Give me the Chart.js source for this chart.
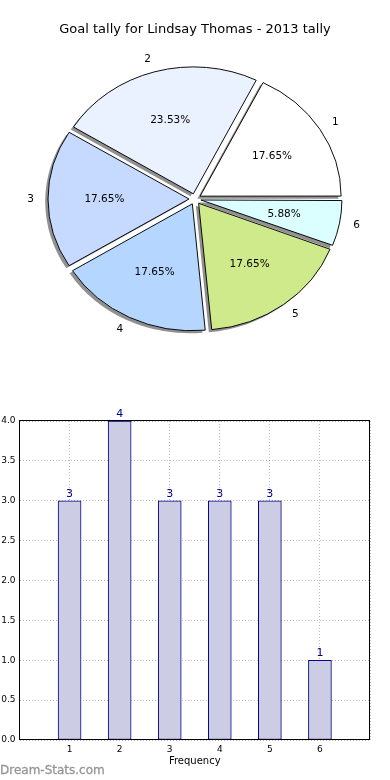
<html>
<head>
  <script src="https://cdn.jsdelivr.net/npm/chart.js@4/dist/chart.umd.min.js"></script>
  <style>
    body { margin: 0; background: #fff; width: 390px; height: 780px; position: relative; overflow: hidden; }
    #pieChart { position: absolute; left: 0; top: 0; }
    #barChart { position: absolute; left: 0; top: 380px; }
    #brand { position: absolute; left: 0; top: 763px; font: 12px 'DejaVu Sans'; color: #959595; -webkit-text-stroke: 0.3px #959595; }
  </style>
  <script>
  const chartTitle = 'Goal tally for Lindsay Thomas - 2013 tally';
  const categories = ['1', '2', '3', '4', '5', '6'];
  const goals = [3, 4, 3, 3, 3, 1];
  const axisTitle = 'Frequency';

  const sliceColors = ['#ffffff', '#eaf1ff', '#c6d9ff', '#b4d6ff', '#cfea8a', '#dbffff'];
  const FONT = 'DejaVu Sans';
  const RADIUS = 141;
  const EXPLODE = 6;     // px each wedge is pushed out
  const SQUASH = 0.9;    // pie is an ellipse in the original

  let total = goals.reduce((a, b) => a + b, 0);

  // matplotlib goes counter-clockwise from 3 o'clock, chart.js clockwise -> reverse
  let pieLabels = categories.slice().reverse();
  let pieValues = goals.slice().reverse();
  let pieColors = sliceColors.slice().reverse();

  let ellipse = {
    id: 'ellipse',
    beforeDatasetsDraw(chart) {
      let ctx = chart.ctx;
      let arcs = chart.getDatasetMeta(0).data;
      let cx = arcs[0].x, cy = arcs[0].y;
      ctx.save();
      ctx.translate(cx, cy);
      ctx.scale(1, SQUASH);
      ctx.translate(-cx, -cy);
      // shadows under every wedge
      ctx.fillStyle = 'rgba(70,70,70,0.6)';
      arcs.forEach(a => {
        let mid = (a.startAngle + a.endAngle) / 2;
        let tx = a.x + Math.cos(mid) * EXPLODE - 2.8;
        let ty = a.y + Math.sin(mid) * EXPLODE + 2.8;
        ctx.beginPath();
        ctx.moveTo(tx, ty);
        ctx.arc(tx, ty, RADIUS, a.startAngle, a.endAngle);
        ctx.closePath();
        ctx.fill();
        // chart.js grows narrow offset wedges a little, undo that
        let fix = 1 - Math.sin(Math.min(Math.PI, a.circumference));
        a.outerRadius = RADIUS - EXPLODE * fix;
      });
    },
    afterDatasetsDraw(chart) {
      chart.ctx.restore();
    }
  };

  let pieText = {
    id: 'pieText',
    afterDraw(chart) {
      let ctx = chart.ctx;
      ctx.save();
      ctx.fillStyle = '#000';
      ctx.font = '10.5px ' + FONT;
      ctx.textBaseline = 'middle';
      chart.getDatasetMeta(0).data.forEach((a, j) => {
        let mid = (a.startAngle + a.endAngle) / 2;
        let c = Math.cos(mid), s = Math.sin(mid);
        let d = EXPLODE + 0.6 * RADIUS;
        ctx.textAlign = 'center';
        ctx.fillText((pieValues[j] / total * 100).toFixed(2) + '%', a.x + c * d, a.y + s * d * SQUASH);
        d = EXPLODE + 1.1 * RADIUS;
        ctx.textAlign = c > 0 ? 'left' : 'right';
        ctx.fillText(pieLabels[j], a.x + c * d, a.y + s * d * SQUASH);
      });
      ctx.restore();
    }
  };

  let barText = {
    id: 'barText',
    afterDatasetsDraw(chart) {
      let ctx = chart.ctx;
      ctx.save();
      ctx.fillStyle = '#00008b';
      ctx.font = '11px ' + FONT;
      ctx.textAlign = 'center';
      ctx.textBaseline = 'alphabetic';
      chart.getDatasetMeta(0).data.forEach((b, i) => {
        ctx.fillText(String(goals[i]), b.x, b.y - 4);
      });
      ctx.restore();
    }
  };

  let frame = {
    id: 'frame',
    afterDraw(chart) {
      let ctx = chart.ctx, a = chart.chartArea;
      ctx.save();
      ctx.strokeStyle = '#000';
      ctx.lineWidth = 1;
      let l = Math.round(a.left) - 0.5, t = Math.round(a.top) - 0.5;
      let r = Math.round(a.right) - 0.5, b = Math.round(a.bottom) - 0.5;
      ctx.strokeRect(l, t, r - l, b - t);
      ctx.restore();
    }
  };

  window.onload = () => {
    new Chart(document.getElementById('pieChart').getContext('2d'), {
      type: 'pie',
      data: {
        labels: pieLabels,
        datasets: [{
          data: pieValues,
          backgroundColor: pieColors,
          borderColor: '#000',
          borderWidth: 1,
          offset: EXPLODE * 4,
          radius: RADIUS,
          clip: false
        }]
      },
      options: {
        responsive: false,
        animation: false,
        events: [],
        rotation: 90,
        layout: { padding: { left: 0, right: 0, top: 0, bottom: 9.6 } },
        plugins: {
          legend: { display: false },
          tooltip: { enabled: false },
          title: {
            display: true,
            text: chartTitle,
            color: '#000',
            font: { family: FONT, size: 13, weight: 'normal' },
            padding: { top: 22, bottom: 10 }
          }
        }
      },
      plugins: [ellipse, pieText]
    });

    new Chart(document.getElementById('barChart').getContext('2d'), {
      type: 'bar',
      data: {
        datasets: [{
          data: goals.map((v, i) => ({ x: i + 1, y: v })),
          backgroundColor: '#ccccE5',
          borderColor: '#00008b',
          borderWidth: 1,
          borderSkipped: false,
          barThickness: 23
        }]
      },
      options: {
        responsive: false,
        animation: false,
        events: [],
        layout: { padding: { left: 0, right: 20, top: 41, bottom: 0 } },
        plugins: {
          legend: { display: false },
          tooltip: { enabled: false }
        },
        scales: {
          x: {
            type: 'linear',
            min: 0,
            max: 7,
            offset: false,
            z: 1,
            afterFit: s => { s.height = 40; },
            ticks: {
              stepSize: 1,
              padding: 4,
              color: '#000',
              font: { family: FONT, size: 9 },
              callback: v => categories[v - 1] || ''
            },
            grid: { offset: false, color: 'rgba(0,0,0,0.28)', drawTicks: false, lineWidth: 1 },
            border: { display: false, dash: [1, 2] },
            title: {
              display: true,
              text: axisTitle,
              color: '#000',
              font: { family: FONT, size: 10 },
              padding: { top: 0, bottom: 13 }
            }
          },
          y: {
            min: 0,
            max: 4,
            z: 1,
            afterFit: s => { s.width = 19.5; },
            ticks: {
              stepSize: 0.5,
              padding: 4,
              color: '#000',
              font: { family: FONT, size: 9 },
              callback: v => v.toFixed(1)
            },
            grid: { color: 'rgba(0,0,0,0.28)', drawTicks: false, lineWidth: 1 },
            border: { display: false, dash: [1, 2] }
          }
        }
      },
      plugins: [barText, frame]
    });
  };
  </script>
</head>
<body>
  <canvas id="pieChart" width="390" height="360"></canvas>
  <canvas id="barChart" width="390" height="400"></canvas>
  <div id="brand">Dream-Stats.com</div>
</body>
</html>
